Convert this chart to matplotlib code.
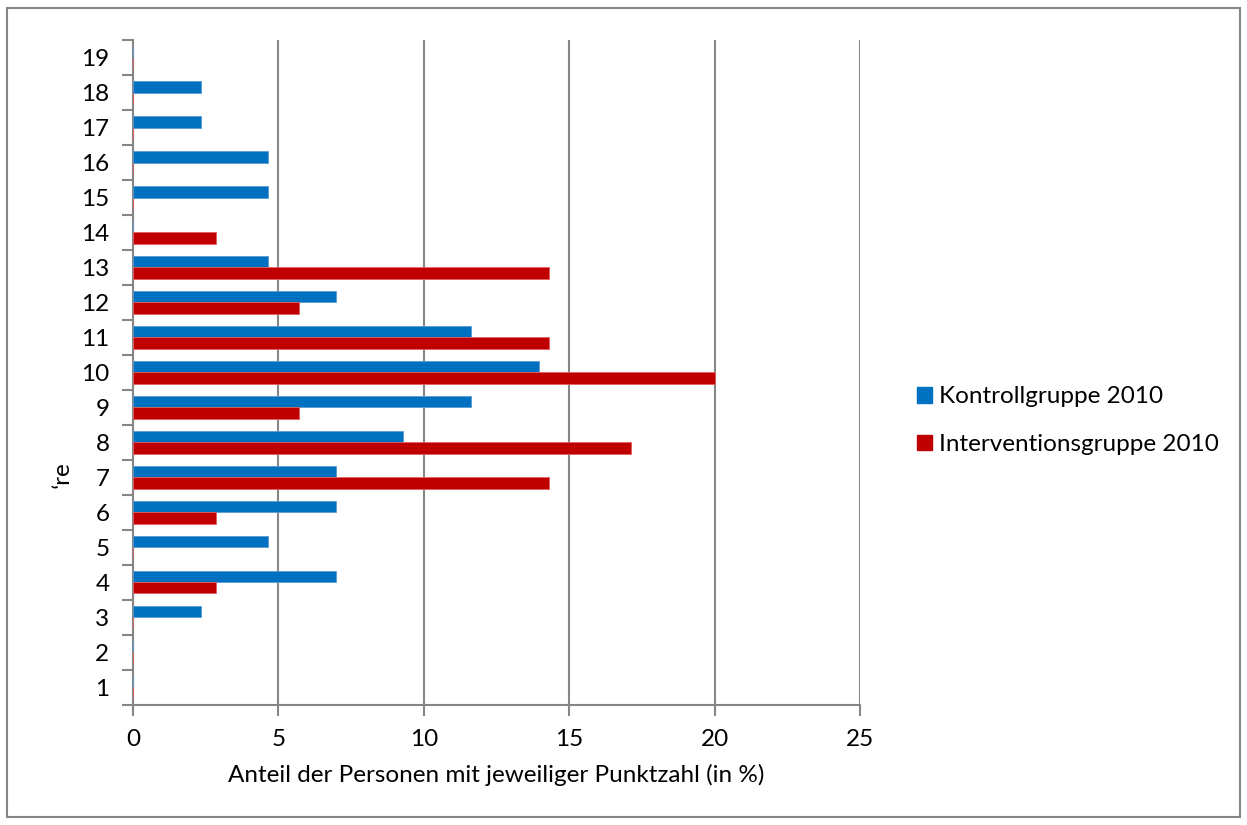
import matplotlib.pyplot as plt
from matplotlib.patches import Patch, Rectangle

# Punktzahlen und Anteile (in %)
punkte = list(range(1, 20))
kontroll = [0, 0, 2.33, 6.98, 4.65, 6.98, 6.98, 9.30, 11.63, 13.95,
            11.63, 6.98, 4.65, 0, 4.65, 4.65, 2.33, 2.33, 0]
intervention = [0, 0, 0, 2.86, 0, 2.86, 14.29, 17.14, 5.71, 20.0,
                14.29, 5.71, 14.29, 2.86, 0, 0, 0, 0, 0]
serien = ['Kontrollgruppe 2010', 'Interventionsgruppe 2010']
farben = ['#0070C0', '#C00000']
xticks = [0, 5, 10, 15, 20, 25]

plt.rcParams['font.family'] = ['Lato', 'DejaVu Sans']
grau = '#868686'
fs = 17.5

fig = plt.figure(figsize=(12.47, 8.25), dpi=100)
ax = fig.add_axes([0.1067, 0.1455, 0.583, 0.806])

h = 0.315
ax.barh([p + h / 2 for p in punkte], kontroll, height=h, color=farben[0],
        edgecolor='#5B9BD5', linewidth=0.6, zorder=3)
ax.barh([p - h / 2 for p in punkte], intervention, height=h, color=farben[1],
        edgecolor='#E06060', linewidth=0.6, zorder=3)

ax.set_xlim(0, 25)
ax.set_ylim(0.5, 19.5)
ax.set_xticks(xticks)
ax.set_yticks(punkte)
ax.set_yticks([p + 0.5 for p in range(0, 20)], minor=True)
ax.tick_params(axis='y', which='major', length=0, labelsize=fs, pad=17)
ax.tick_params(axis='y', which='minor', length=8, color=grau, width=1.5)
ax.tick_params(axis='x', length=8, color=grau, width=1.5, labelsize=fs, pad=9)
ax.xaxis.grid(True, color=grau, linewidth=1.5, zorder=0)

for s in ['top', 'right']:
    ax.spines[s].set_visible(False)
for s in ['left', 'bottom']:
    ax.spines[s].set_color(grau)
    ax.spines[s].set_linewidth(1.5)

ax.set_xlabel('Anteil der Personen mit jeweiliger Punktzahl (in %)', fontsize=fs, labelpad=10)
fig.text(62 / 1247, 1 - 475 / 825, "ʻre", rotation=90, fontsize=fs,
         ha='center', va='center')

handles = [Patch(color=farben[0]), Patch(color=farben[1])]
fig.legend(handles, serien, loc='center left', bbox_to_anchor=(0.718, 0.49),
           frameon=False, fontsize=fs, handlelength=0.6, handleheight=0.6,
           handletextpad=0.3, labelspacing=1.1)

# Rahmen um das Diagramm
fig.patches.append(Rectangle((0.006, 0.01), 0.988, 0.98, transform=fig.transFigure,
                             fill=False, edgecolor=grau, linewidth=1.5))

fig.savefig('out.png', dpi=100)
